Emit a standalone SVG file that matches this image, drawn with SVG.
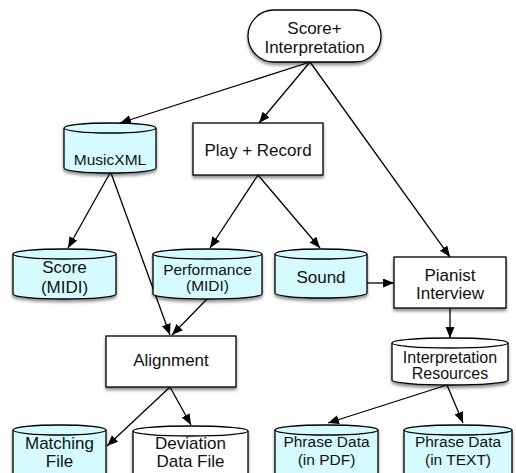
<svg xmlns="http://www.w3.org/2000/svg" width="516" height="473" viewBox="0 0 516 473">
  <defs>
    <filter id="shadow" x="-10%" y="-10%" width="130%" height="140%">
      <feDropShadow dx="0" dy="2.5" stdDeviation="1.6" flood-color="#000" flood-opacity="0.45"/>
    </filter>
    <marker id="arrow" markerUnits="userSpaceOnUse" markerWidth="12" markerHeight="10" refX="11" refY="4.5" orient="auto">
      <path d="M0,0 L11,4.5 L0,9 z" fill="#000"/>
    </marker>
  </defs>
  <style>
    .shape { stroke: #000; stroke-width: 1.3; filter: url(#shadow); }
    .box { fill: #fff; }
    .db { fill: #d6fbff; }
    .plain { fill: #fff; }
    .rim { fill: none; stroke: #000; stroke-width: 1.3; }
    text { font-family: "Liberation Sans", Arial, sans-serif; font-size: 17px; fill: #111; text-anchor: middle; }
    .sm { font-size: 15.5px; }
    .edge { fill: none; stroke: #000; stroke-width: 1.3; marker-end: url(#arrow); }
  </style>

  <rect width="516" height="473" fill="#fff"/>

  <g id="connectors">
    <line class="edge" x1="310" y1="62" x2="120" y2="123"/>
    <line class="edge" x1="310" y1="62" x2="259" y2="123"/>
    <line class="edge" x1="310" y1="62" x2="450" y2="257"/>
    <line class="edge" x1="110" y1="173" x2="68" y2="248"/>
    <line class="edge" x1="111" y1="173" x2="170" y2="335"/>
    <line class="edge" x1="258" y1="175" x2="210" y2="248"/>
    <line class="edge" x1="258" y1="175" x2="320" y2="248"/>
    <line class="edge" x1="207" y1="299" x2="172" y2="335"/>
    <line class="edge" x1="367" y1="283" x2="394" y2="283"/>
    <line class="edge" x1="450" y1="308" x2="450" y2="338"/>
    <line class="edge" x1="170" y1="387" x2="107" y2="446"/>
    <line class="edge" x1="170" y1="387" x2="191" y2="425"/>
    <line class="edge" x1="447" y1="385" x2="328" y2="423"/>
    <line class="edge" x1="447" y1="385" x2="463" y2="423"/>
  </g>

  <g id="score-interpretation">
    <rect class="shape box" x="248" y="10" width="133" height="52" rx="26"/>
    <text x="314.5" y="34">Score+</text>
    <text x="314.5" y="53">Interpretation</text>
  </g>

  <g id="musicxml">
    <path class="shape db" d="M64,128 A46,5 0 0 1 156,128 L156,168 A46,5 0 0 1 64,168 Z"/>
    <path class="rim" d="M64,128 A46,5 0 0 0 156,128"/>
    <text class="sm" x="110" y="165">MusicXML</text>
  </g>

  <g id="play-record">
    <rect class="shape box" x="193" y="123" width="130" height="52"/>
    <text x="258" y="156">Play + Record</text>
  </g>

  <g id="score-midi">
    <path class="shape db" d="M13,254 A51.5,5 0 0 1 116,254 L116,294 A51.5,5 0 0 1 13,294 Z"/>
    <path class="rim" d="M13,254 A51.5,5 0 0 0 116,254"/>
    <text x="64.5" y="273">Score</text>
    <text x="64.5" y="293">(MIDI)</text>
  </g>

  <g id="performance-midi">
    <path class="shape db" d="M153,254 A54.5,5 0 0 1 262,254 L262,294 A54.5,5 0 0 1 153,294 Z"/>
    <path class="rim" d="M153,254 A54.5,5 0 0 0 262,254"/>
    <text class="sm" x="207.5" y="274.5">Performance</text>
    <text class="sm" x="207.5" y="290.5">(MIDI)</text>
  </g>

  <g id="sound">
    <path class="shape db" d="M275,254 A46,5 0 0 1 367,254 L367,293 A46,5 0 0 1 275,293 Z"/>
    <path class="rim" d="M275,254 A46,5 0 0 0 367,254"/>
    <text x="321" y="283">Sound</text>
  </g>

  <g id="pianist-interview">
    <rect class="shape box" x="394" y="257" width="112" height="51"/>
    <text x="450" y="281">Pianist</text>
    <text x="450" y="299">Interview</text>
  </g>

  <g id="alignment">
    <rect class="shape box" x="106" y="336" width="130" height="51"/>
    <text x="171" y="366">Alignment</text>
  </g>

  <g id="interpretation-resources">
    <path class="shape plain" d="M392,343 A58,5 0 0 1 508,343 L508,380 A58,5 0 0 1 392,380 Z"/>
    <path class="rim" d="M392,343 A58,5 0 0 0 508,343"/>
    <text x="450" y="362.5" style="font-size:16px">Interpretation</text>
    <text x="450" y="378.5" style="font-size:16px">Resources</text>
  </g>

  <g id="matching-file">
    <path class="shape db" d="M13,430 A46.5,5 0 0 1 106,430 L106,478 A46.5,5 0 0 1 13,478 Z"/>
    <path class="rim" d="M13,430 A46.5,5 0 0 0 106,430"/>
    <text x="59.5" y="448.5">Matching</text>
    <text x="59.5" y="466.5">File</text>
  </g>

  <g id="deviation-data-file">
    <path class="shape plain" d="M133,431 A57.5,5 0 0 1 248,431 L248,478 A57.5,5 0 0 1 133,478 Z"/>
    <path class="rim" d="M133,431 A57.5,5 0 0 0 248,431"/>
    <text x="190.5" y="448.5">Deviation</text>
    <text x="190.5" y="466.5">Data File</text>
  </g>

  <g id="phrase-data-pdf">
    <path class="shape db" d="M275,430 A51.5,5 0 0 1 378,430 L378,478 A51.5,5 0 0 1 275,478 Z"/>
    <path class="rim" d="M275,430 A51.5,5 0 0 0 378,430"/>
    <text class="sm" x="326.5" y="447">Phrase Data</text>
    <text class="sm" x="326.5" y="465">(in PDF)</text>
  </g>

  <g id="phrase-data-text">
    <path class="shape db" d="M404,430 A54,5 0 0 1 512,430 L512,478 A54,5 0 0 1 404,478 Z"/>
    <path class="rim" d="M404,430 A54,5 0 0 0 512,430"/>
    <text class="sm" x="458" y="447">Phrase Data</text>
    <text class="sm" x="458" y="465">(in TEXT)</text>
  </g>
</svg>
